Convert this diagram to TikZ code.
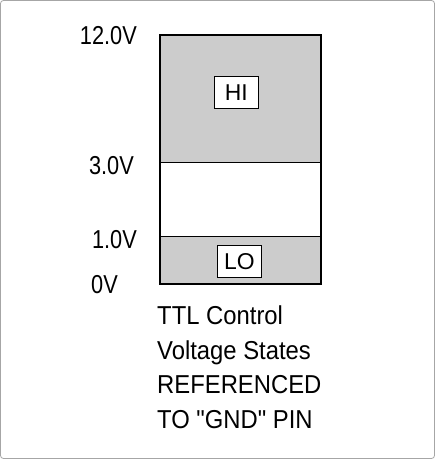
\documentclass[tikz,border=0pt]{standalone}
\usepackage{fontspec}
\setmainfont{Liberation Sans}
\newfontfamily\condfont[FakeStretch=0.92]{Liberation Sans}
\newfontfamily\numfont[FakeStretch=0.84]{Liberation Sans}

\tikzset{
  band/.style={draw=black, line width=1.2bp},
  statebox/.style={draw=black, fill=white, line width=1bp, inner sep=0pt,
    minimum width=44.5bp, minimum height=32bp, font=\fontsize{23}{26}\selectfont},
  level/.style={anchor=base east, font=\numfont\fontsize{26}{30}\selectfont},
  note/.style={anchor=base west}
}

\begin{document}
\begin{tikzpicture}[x=1bp, y=-1bp, every node/.style={font=\condfont\fontsize{26}{30}\selectfont, inner sep=0pt}]

\useasboundingbox (0,0) rectangle (435,459);
\draw[gray!70, line width=0.8bp, rounded corners=3bp] (0.5,0.5) rectangle (434.5,458.5);

% ---- voltage bands ----
\draw[band, fill=gray!40] (160,35) rectangle (321,162.5);
\draw[band, fill=white] (160,162.5) rectangle (321,236.5);
\draw[band, fill=gray!40] (160,236.5) rectangle (321,284);

\node[statebox] (hi) at (236.3,93) {HI};
\node[statebox] (lo) at (239.3,261.2) {LO};

% ---- levels ----
\node[level] (v12) at (137,45) {12.0V};
\node[level] (v3) at (134,175) {3.0V};
\node[level] (v1) at (137,248) {1.0V};
\node[level, anchor=base west] (v0) at (91,293) {0V};

% ---- caption ----
\node[note] (cap1) at (157,324) {TTL Control};
\node[note] (cap2) at (157,359) {Voltage States};
\node[note] (cap3) at (157,393) {REFERENCED};
\node[note] (cap4) at (157,428) {TO "GND" PIN};

\end{tikzpicture}
\end{document}
